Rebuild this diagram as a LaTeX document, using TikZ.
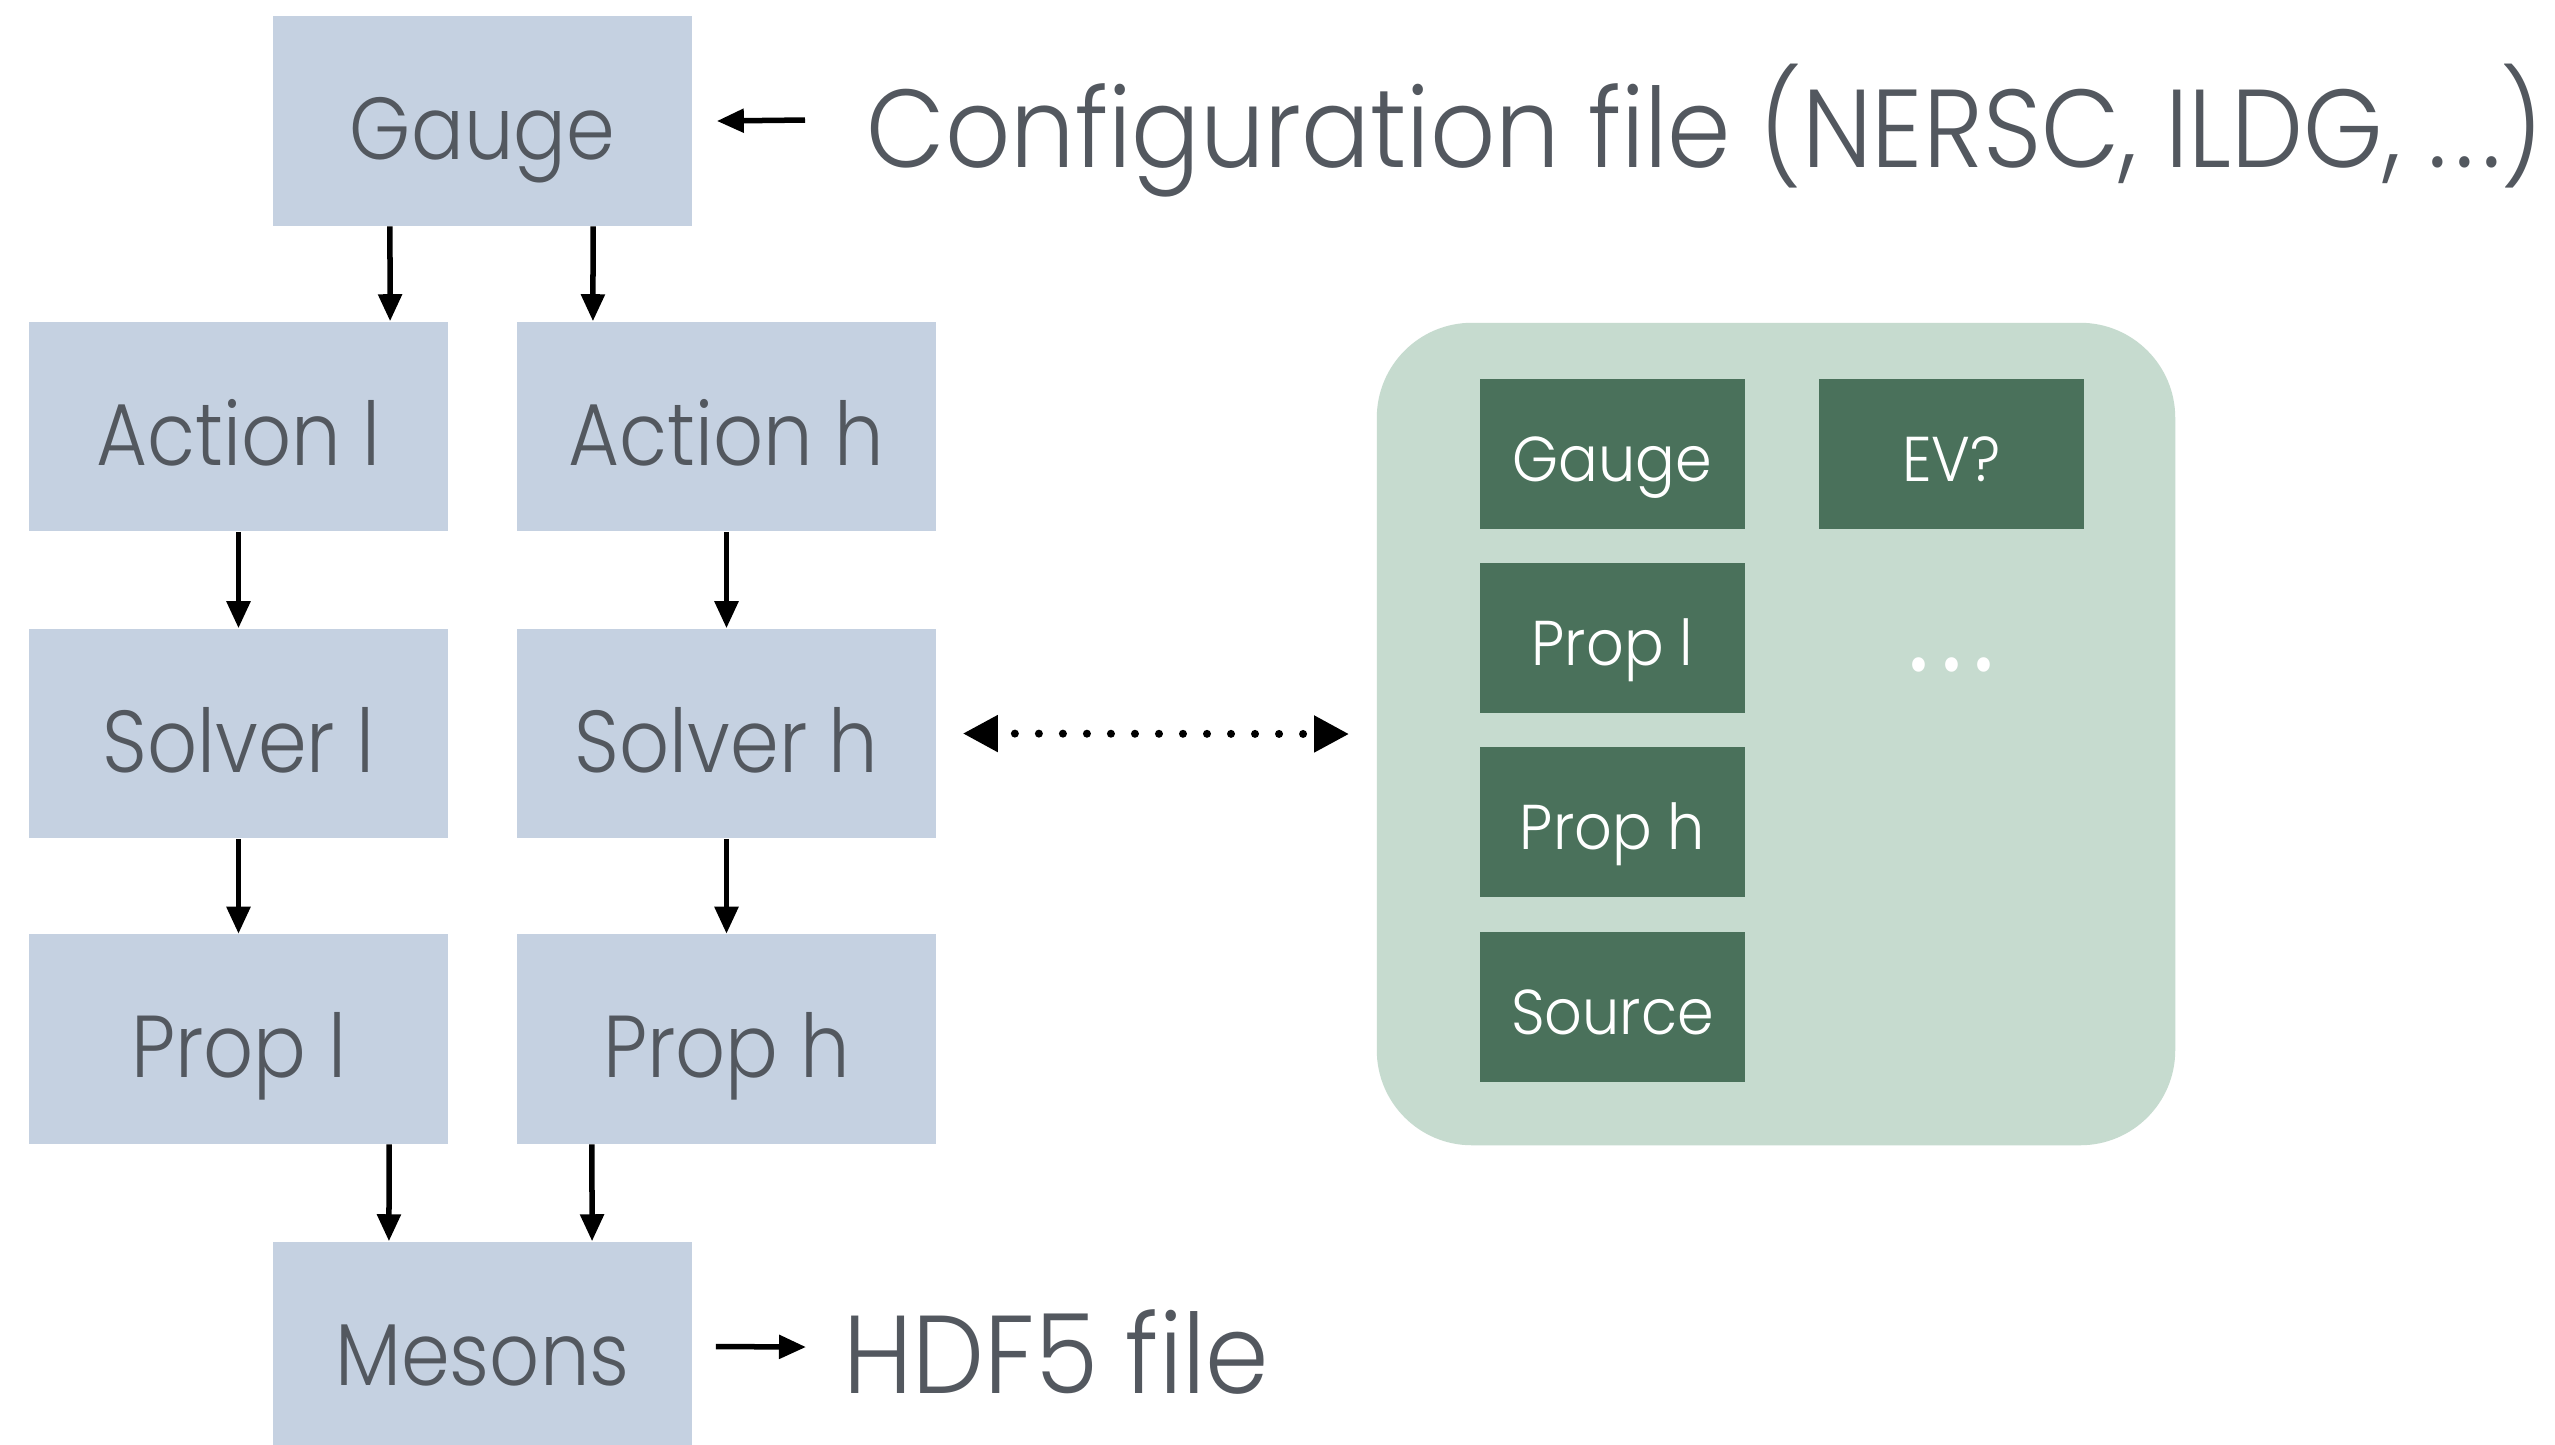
\documentclass[tikz,border=0pt]{standalone}
\usepackage{fontspec}
\setmainfont{Poppins Light}[FakeStretch=0.89]
\newfontfamily\innerfont{Poppins Light}[FakeStretch=0.93]
\newfontfamily\labelfont{Poppins Light}[FakeStretch=0.92]
\usetikzlibrary{arrows.meta,calc}
\definecolor{boxblue}{HTML}{C5D1E1}
\definecolor{txtgray}{HTML}{53585F}
\definecolor{lightgreen}{HTML}{C6DBCF}
\definecolor{darkgreen}{HTML}{4A715B}
\newcommand\fbig{\fontsize{25}{30}\selectfont}
\newcommand\flabel{\labelfont\fontsize{31.5}{38}\selectfont}
\newcommand\finner{\innerfont\fontsize{18}{22}\selectfont}
\newcommand\fdots{\fontsize{40}{40}\selectfont}
\begin{document}
\begin{tikzpicture}[x=0.01cm,y=-0.01cm,
  bbox/.style={fill=boxblue, minimum width=4.19cm, minimum height=2.09cm, inner sep=0pt,
    text=txtgray, font=\fbig, text height=0.77cm, text depth=0cm},
  gbox/.style={fill=darkgreen, minimum width=2.65cm, minimum height=1.5cm, inner sep=0pt,
    text=white, font=\finner, text height=0.54cm, text depth=0cm},
  lbl/.style={anchor=base west, inner sep=0pt, text=txtgray, font=\flabel},
  arr/.style={line width=0.055cm, -{Triangle[length=0.27cm,width=0.23cm]}},
  dotarr/.style={line width=0.08cm, line cap=round, dash pattern=on 0pt off 0.24cm, dash phase=0.05cm,
    {Triangle[length=0.35cm,width=0.35cm]}-{Triangle[length=0.35cm,width=0.35cm]}},
]
\useasboundingbox (0,0) rectangle (2555,1444);
\clip (0,0) rectangle (2555,1444);
\fill[white] (0,0) rectangle (2555,1444);

% pipeline boxes
\node[bbox] (gauge)  at (482.5,121)   {Gauge};
\node[bbox] (actl)   at (238.5,426.5) {Action l};
\node[bbox] (acth)   at (726.5,426.5) {Action h};
\node[bbox] (solvl)  at (238.5,733.5) {Solver l};
\node[bbox] (solvh)  at (726.5,733.5) {Solver h};
\node[bbox] (propl)  at (238.5,1039)  {Prop l};
\node[bbox] (proph)  at (726.5,1039)  {Prop h};
\node[bbox] (mesons) at (482.5,1346.5) {Mesons};

% arrows
\draw[arr] ([xshift=-0.925cm]gauge.south) -- ([xshift=1.515cm]actl.north);
\draw[arr] ([xshift=1.105cm]gauge.south) -- ([xshift=-1.335cm]acth.north);
\draw[arr] (actl.south) -- (solvl.north);
\draw[arr] (acth.south) -- (solvh.north);
\draw[arr] (solvl.south) -- (propl.north);
\draw[arr] (solvh.south) -- (proph.north);
\draw[arr] ([xshift=1.505cm]propl.south) -- ([xshift=-0.935cm]mesons.north);
\draw[arr] ([xshift=-1.345cm]proph.south) -- ([xshift=1.095cm]mesons.north);

% labels
\node[lbl] (cfg) at (866,167) {Configuration file (NERSC, ILDG, .\kern2.3pt.\kern2.3pt.)};
\node[lbl] (hdf) at (843,1393) {HDF5 file};
\coordinate (cfgin) at (805,120);
\coordinate (hdfout) at (806,1347);
\draw[arr] (cfgin) -- ([xshift=0.24cm]gauge.east);
\draw[arr] ([xshift=0.23cm]mesons.east) -- (hdfout);

% store
\node[fill=lightgreen, rounded corners=0.95cm, minimum width=7.98cm, minimum height=8.22cm, inner sep=0pt] (store) at (1776,734) {};
\node[gbox] (sgauge)  at (1612.5,454) {Gauge};
\node[gbox] (sev)     at (1951.5,454) {EV?};
\node[gbox] (sprl)    at (1612.5,638) {Prop l};
\node[gbox] (sprh)    at (1612.5,822) {Prop h};
\node[gbox] (ssource) at (1612.5,1007) {Source};
\node[anchor=base, inner sep=0pt, text=white, font=\fdots] (more) at (1951.5,671) {.\kern2.8pt.\kern2.8pt.};

\draw[dotarr] ([xshift=0.26cm]solvh.east) -- ([xshift=-0.27cm]store.west);
\end{tikzpicture}
\end{document}
